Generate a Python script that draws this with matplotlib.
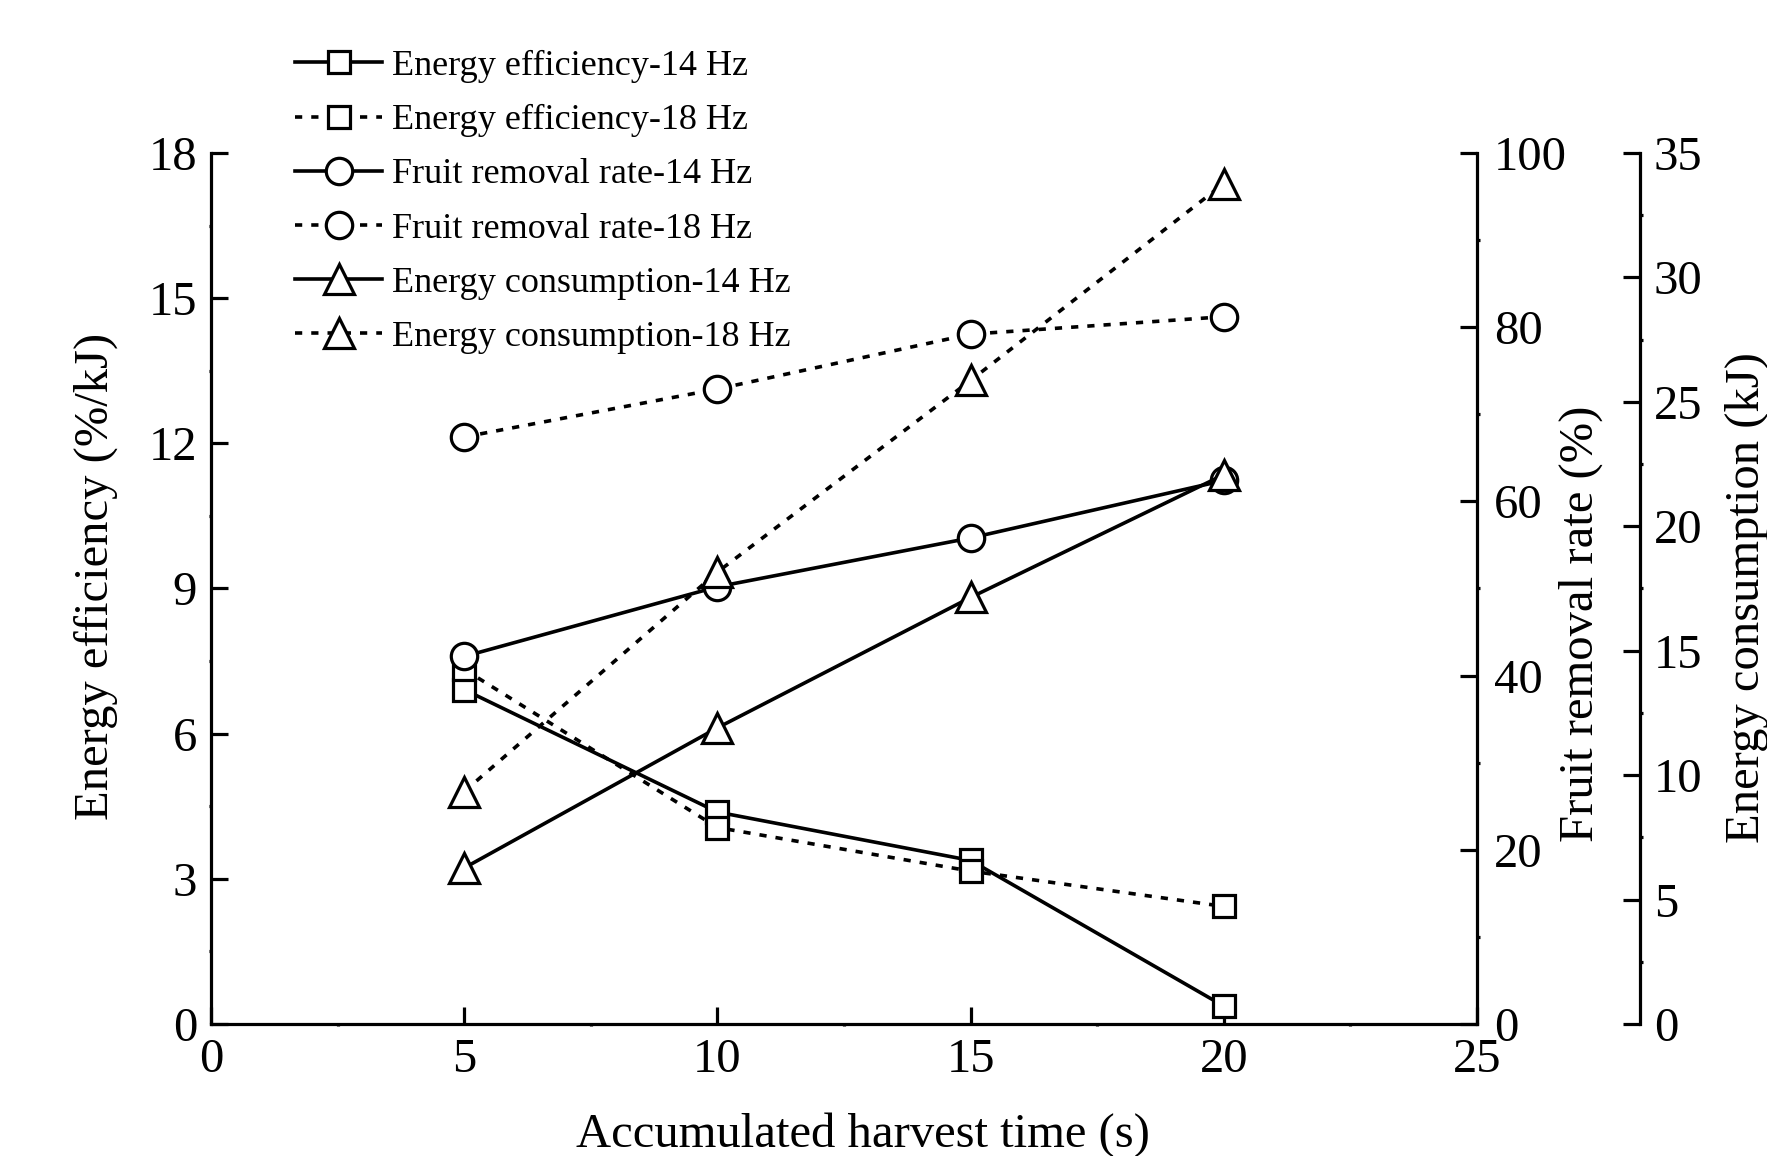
import matplotlib
matplotlib.use("Agg")
import matplotlib.pyplot as plt
from matplotlib.ticker import MultipleLocator

plt.rcParams['font.family'] = ['Liberation Serif', 'DejaVu Serif']

# ---- data ----
time_s = [5, 10, 15, 20]
ee_14 = [6.91, 4.38, 3.38, 0.37]
ee_18 = [7.33, 4.06, 3.16, 2.43]
frr_14 = [42.2, 50.2, 55.8, 62.4]
frr_18 = [67.4, 72.9, 79.2, 81.2]
ec_14 = [6.27, 11.9, 17.14, 22.07]
ec_18 = [9.34, 18.16, 25.86, 33.77]

labels = ["Energy efficiency-14 Hz", "Energy efficiency-18 Hz",
          "Fruit removal rate-14 Hz", "Fruit removal rate-18 Hz",
          "Energy consumption-14 Hz", "Energy consumption-18 Hz"]

x_ticks = [0, 5, 10, 15, 20, 25]
ee_ticks = [0, 3, 6, 9, 12, 15, 18]
frr_ticks = [0, 20, 40, 60, 80, 100]
ec_ticks = [0, 5, 10, 15, 20, 25, 30, 35]

# ---- styles ----
LW = 2.6
DOT = (0, (2.0, 2.5))
TICK_FS = 35
LABEL_FS = 35
LEG_FS = 26
common = dict(color='black', lw=LW, mfc='white', mec='black', mew=2.3)

fig = plt.figure(figsize=(17.67, 11.56), dpi=100)
ax = fig.add_axes([0.11941, 0.11419, 0.71647, 0.75346])
ax2 = ax.twinx()
ax3 = ax.twinx()

h = []
h += ax.plot(time_s, ee_14, ls='-', marker='s', ms=16.5, **common)
h += ax.plot(time_s, ee_18, ls=DOT, marker='s', ms=16.5, **common)
h += ax2.plot(time_s, frr_14, ls='-', marker='o', ms=19, **common)
h += ax2.plot(time_s, frr_18, ls=DOT, marker='o', ms=19, **common)
h += ax3.plot(time_s, ec_14, ls='-', marker='^', ms=22, **common)
h += ax3.plot(time_s, ec_18, ls=DOT, marker='^', ms=22, **common)

ax.set_xlim(0, 25)
ax.set_ylim(0, 18)
ax2.set_ylim(0, 100)
ax3.set_ylim(0, 35)

ax.set_xticks(x_ticks)
ax.set_yticks(ee_ticks)
ax2.set_yticks(frr_ticks)
ax3.set_yticks(ec_ticks)
ax.xaxis.set_minor_locator(MultipleLocator(2.5))
ax.yaxis.set_minor_locator(MultipleLocator(1.5))
ax2.yaxis.set_minor_locator(MultipleLocator(10))
ax3.yaxis.set_minor_locator(MultipleLocator(2.5))

SW = 2.3
for a in (ax, ax2, ax3):
    for s in a.spines.values():
        s.set_linewidth(SW)
        s.set_visible(False)
ax.spines['left'].set_visible(True)
ax.spines['bottom'].set_visible(True)
ax2.spines['right'].set_visible(True)
ax3.spines['right'].set_visible(True)
ax3.spines['right'].set_position(('axes', 1.1288))

ax.tick_params(axis='both', which='major', direction='in', length=12, width=SW,
               labelsize=TICK_FS, pad=10, top=False, right=False)
ax.tick_params(axis='both', which='minor', direction='out', length=1.5, width=SW,
               top=False, right=False)
ax2.tick_params(axis='y', which='major', direction='in', length=12, width=SW,
                labelsize=TICK_FS, pad=12)
ax2.tick_params(axis='y', which='minor', direction='out', length=2, width=SW)
ax3.tick_params(axis='y', which='major', direction='in', length=12, width=SW,
                labelsize=TICK_FS, pad=10)
ax3.tick_params(axis='y', which='minor', direction='out', length=2, width=SW)

ax.set_xlabel("Accumulated harvest time (s)", fontsize=LABEL_FS, va='center')
ax.xaxis.set_label_coords(0.515, -0.127)
ax.set_ylabel("Energy efficiency (%/kJ)", fontsize=LABEL_FS, va='center')
ax.yaxis.set_label_coords(-0.091, 0.514)
ax2.set_ylabel("Fruit removal rate (%)", fontsize=LABEL_FS, va='center')
ax2.yaxis.set_label_coords(1.082, 0.46)
ax3.set_ylabel("Energy consumption (kJ)", fontsize=LABEL_FS, va='center')
ax3.yaxis.set_label_coords(1.213, 0.49)

fig.legend(h, labels, loc='upper left', bbox_to_anchor=(0.167, 0.957),
           frameon=False, fontsize=LEG_FS, handlelength=2.42, handletextpad=0.25,
           labelspacing=0.58, borderpad=0, borderaxespad=0, numpoints=1)

fig.savefig("out.png", dpi=100)
